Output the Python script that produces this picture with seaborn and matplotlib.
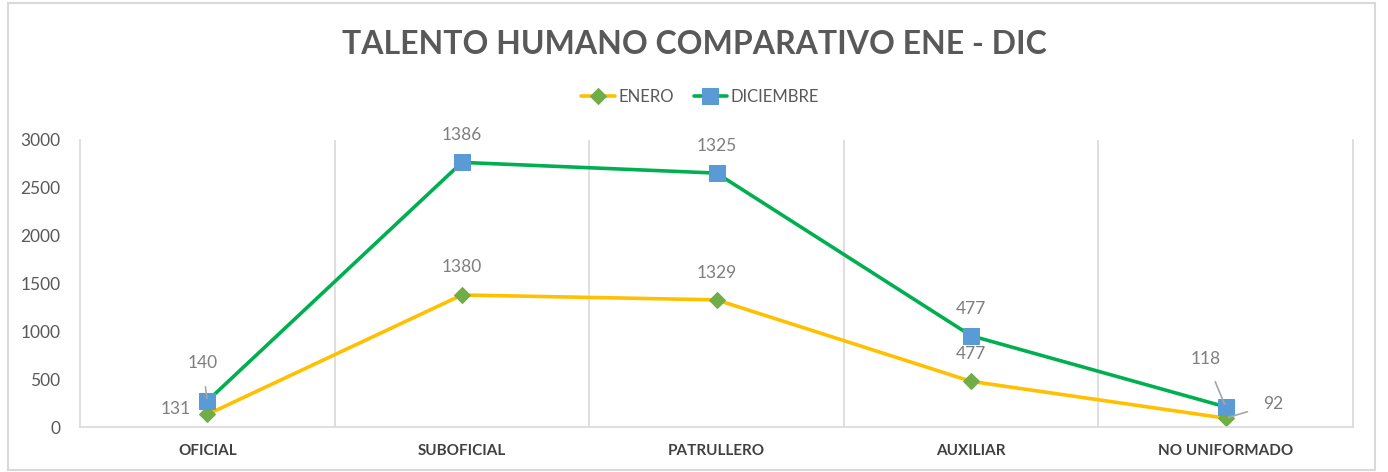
import pandas as pd
import matplotlib.pyplot as plt
import seaborn as sns
from matplotlib.patches import Rectangle

# Data (stacked line: DICIEMBRE sits on top of ENERO)
categorias = ["OFICIAL", "SUBOFICIAL", "PATRULLERO", "AUXILIAR", "NO UNIFORMADO"]
enero = [131, 1380, 1329, 477, 92]
diciembre = [140, 1386, 1325, 477, 118]

dic_apilado = [e + d for e, d in zip(enero, diciembre)]

df = pd.DataFrame({
    "Categoria": list(range(len(categorias))) * 2,
    "Valor": enero + dic_apilado,
    "Serie": ["ENERO"] * len(categorias) + ["DICIEMBRE"] * len(categorias),
})

sns.set_theme(style="white")
plt.rcParams["font.family"] = ["Lato", "DejaVu Sans"]

gris = "#595959"
fig = plt.figure(figsize=(13.88, 4.72), dpi=100)
ax = fig.add_axes([80 / 1388, 1 - 427 / 472, (1353 - 80) / 1388, (427 - 140) / 472])

sns.lineplot(
    data=df, x="Categoria", y="Valor", hue="Serie", style="Serie",
    hue_order=["ENERO", "DICIEMBRE"], style_order=["ENERO", "DICIEMBRE"],
    palette={"ENERO": "#FFC000", "DICIEMBRE": "#00B050"},
    markers={"ENERO": "D", "DICIEMBRE": "s"}, dashes=False,
    linewidth=2.6, ax=ax, legend=False,
)

# marker colours differ from line colours
ax.lines[0].set(markerfacecolor="#70AD47", markeredgecolor="#70AD47", markersize=8)
ax.lines[1].set(markerfacecolor="#5B9BD5", markeredgecolor="#5B9BD5", markersize=11)

ax.set_xlim(-0.5, len(categorias) - 0.5)
ax.set_ylim(0, 3000)
ax.set_yticks(range(0, 3001, 500))
ax.set_xticks(range(len(categorias)))
ax.set_xticklabels(categorias, fontsize=11, fontweight="bold", color="#404040")
ax.tick_params(axis="y", labelsize=12.5, labelcolor=gris, length=0, pad=14)
ax.tick_params(axis="x", length=0, pad=12)
ax.set_xlabel("")
ax.set_ylabel("")

# vertical separators between categories
ax.set_xticks([i + 0.5 for i in range(len(categorias) - 1)], minor=True)
ax.grid(False)
ax.grid(True, which="minor", axis="x", color="#d9d9d9", linewidth=1.2)
ax.tick_params(which="minor", length=0)
for s in ["left", "bottom", "right"]:
    ax.spines[s].set_color("#d9d9d9")
    ax.spines[s].set_linewidth(1.2)
ax.spines["top"].set_visible(False)

# data labels (offsets in pixels)
etiqueta = dict(textcoords="offset pixels", ha="center", va="center",
                fontsize=12.5, color="#7f7f7f")
linea = dict(arrowstyle="-", color="#a6a6a6", lw=1.2, shrinkA=9, shrinkB=2)
off_ene = [(-32, 5), (0, 28), (0, 27), (0, 27), (47, 14)]
off_dic = [(-5, 38), (0, 27), (0, 27), (0, 27), (-20, 48)]
for i in range(len(categorias)):
    ax.annotate(str(enero[i]), (i, enero[i]), xytext=off_ene[i], **etiqueta,
                arrowprops=linea if i == 4 else None)
    ax.annotate(str(diciembre[i]), (i, dic_apilado[i]), xytext=off_dic[i], **etiqueta,
                arrowprops=linea if i in (0, 4) else None)

fig.text(0.5, 1 - 45 / 472, "TALENTO HUMANO COMPARATIVO ENE - DIC", ha="center",
         va="center", fontsize=23, fontweight="bold", color=gris)

fig.legend(handles=ax.lines[:2], labels=["ENERO", "DICIEMBRE"], loc="center",
           bbox_to_anchor=(700 / 1388, 1 - 97 / 472), ncol=2, frameon=False,
           fontsize=12, labelcolor=gris, handlelength=2.0, columnspacing=1.2,
           handletextpad=0.2)

fig.patches.append(Rectangle((8 / 1388, 2 / 472), 1367 / 1388, 467 / 472,
                             transform=fig.transFigure, fill=False,
                             edgecolor="#d9d9d9", linewidth=1.5))

fig.savefig("out.png", dpi=100)
